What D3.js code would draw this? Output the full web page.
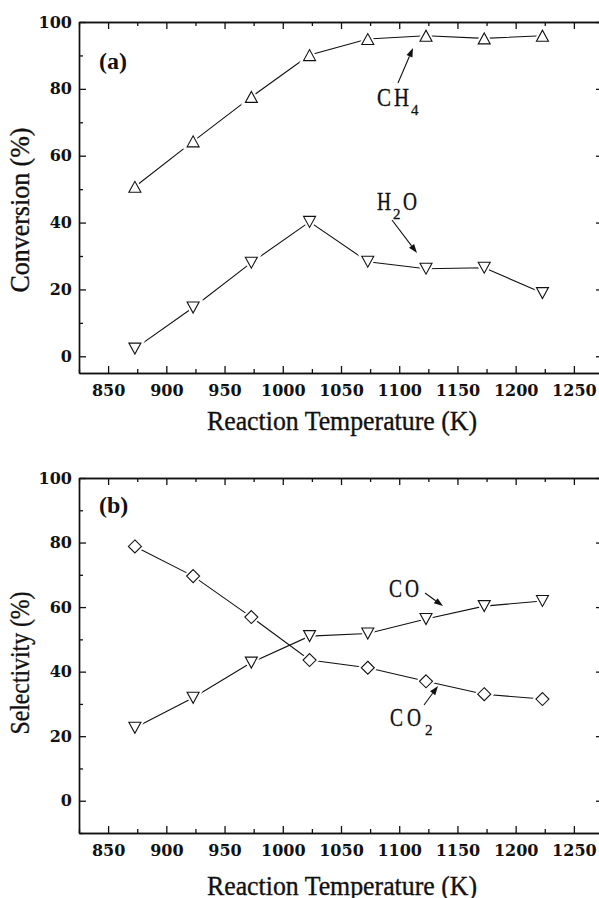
<!DOCTYPE html>
<html><head><meta charset="utf-8">
<script src="https://cdn.jsdelivr.net/npm/d3@7"></script>
<style>
html,body{margin:0;padding:0;background:#fff;}
svg{display:block;}
.tick text{font-family:"DejaVu Serif",serif;font-size:16px;font-weight:bold;fill:#111;}
</style></head>
<body><svg id="c" width="599" height="898"></svg>
<script>
// ---- data ----
const temps = [873, 923, 973, 1023, 1073, 1123, 1173, 1223];
const ch4Conv = [50.7, 64.3, 77.6, 90.1, 94.9, 95.9, 95.1, 95.9];
const h2oConv = [2.3, 14.6, 28.0, 40.2, 28.3, 26.2, 26.5, 18.9];
const coSel = [22.6, 31.9, 42.8, 51.0, 51.8, 56.3, 60.3, 61.9];
const co2Sel = [78.8, 69.6, 56.9, 43.6, 41.2, 37.0, 33.0, 31.5];
const xTicks = [850, 900, 950, 1000, 1050, 1100, 1150, 1200, 1250];
const yTicks = [0, 20, 40, 60, 80, 100];
const xLabel = "Reaction Temperature (K)";
const yLabelA = "Conversion (%)";
const yLabelB = "Selectivity (%)";

const svg = d3.select("#c");
const titleFont = '"Liberation Serif","DejaVu Serif",serif';

function drawPanel(cfg) {
  const x = d3.scaleLinear().domain([825, 1275]).range([79, 603]);
  const y = d3.scaleLinear().domain(cfg.yDomain).range([cfg.bottom, cfg.top]);
  const g = svg.append("g");
  const xMinor = d3.range(825, 1276, 25).filter(v => v % 50 !== 0);
  const yMinor = d3.range(-10, 101, 10).filter(v => v % 20 !== 0 && v >= cfg.yDomain[0]);

  function styleAxis(sel) {
    sel.select(".domain").attr("stroke", "#111").attr("stroke-width", 1.4);
    sel.selectAll(".tick line").attr("stroke", "#111").attr("stroke-width", 1.3);
  }
  // bottom
  g.append("g").attr("transform", `translate(0,${cfg.bottom})`)
    .call(d3.axisBottom(x).tickValues(xTicks).tickSizeInner(-7).tickSizeOuter(0).tickPadding(12).tickFormat(d3.format("d")))
    .call(styleAxis).call(s => s.selectAll(".tick text").attr("dy", "0.71em"));
  g.append("g").attr("transform", `translate(0,${cfg.bottom})`)
    .call(d3.axisBottom(x).tickValues(xMinor).tickSizeInner(-4).tickSizeOuter(0).tickFormat(""))
    .call(styleAxis);
  // top
  g.append("g").attr("transform", `translate(0,${cfg.top})`)
    .call(d3.axisTop(x).tickValues(xTicks).tickSizeInner(-7).tickSizeOuter(0).tickFormat(""))
    .call(styleAxis);
  g.append("g").attr("transform", `translate(0,${cfg.top})`)
    .call(d3.axisTop(x).tickValues(xMinor).tickSizeInner(-4).tickSizeOuter(0).tickFormat(""))
    .call(styleAxis);
  // left
  g.append("g").attr("transform", `translate(79,0)`)
    .call(d3.axisLeft(y).tickValues(yTicks).tickSizeInner(-7).tickSizeOuter(0).tickPadding(7))
    .call(styleAxis);
  g.append("g").attr("transform", `translate(79,0)`)
    .call(d3.axisLeft(y).tickValues(yMinor).tickSizeInner(-4).tickSizeOuter(0).tickFormat(""))
    .call(styleAxis);
  // right
  g.append("g").attr("transform", `translate(603,0)`)
    .call(d3.axisRight(y).tickValues(yTicks).tickSizeInner(-7).tickSizeOuter(0).tickFormat(""))
    .call(styleAxis);
  g.append("g").attr("transform", `translate(603,0)`)
    .call(d3.axisRight(y).tickValues(yMinor).tickSizeInner(-4).tickSizeOuter(0).tickFormat(""))
    .call(styleAxis);

  // titles
  g.append("text").attr("x", 342).attr("y", cfg.xTitleY).attr("text-anchor", "middle")
    .attr("font-family", titleFont).attr("font-size", 27).attr("stroke", "#111").attr("stroke-width", 0.35)
    .attr("textLength", 270).attr("lengthAdjust", "spacingAndGlyphs").attr("fill", "#111")
    .text(xLabel);
  g.append("text").attr("transform", `translate(29,${cfg.yTitleC}) rotate(-90)`).attr("text-anchor", "middle")
    .attr("font-family", titleFont).attr("font-size", 27).attr("stroke", "#111").attr("stroke-width", 0.35)
    .attr("textLength", cfg.yTitleLen).attr("lengthAdjust", "spacingAndGlyphs").attr("fill", "#111")
    .text(cfg.yLabel);
  g.append("text").attr("x", 99).attr("y", cfg.panelY)
    .attr("font-family", titleFont).attr("font-size", 24).attr("font-weight", "bold").attr("fill", "#111")
    .text(cfg.panel);

  // series
  cfg.series.forEach(s => {
    const pts = temps.map((t, i) => [x(t), y(s.values[i])]);
    g.append("path").attr("d", d3.line()(pts)).attr("fill", "none").attr("stroke", "#111").attr("stroke-width", 1.1);
    const shape = s.marker === "up" ? "M-6,5.5L6,5.5L0,-5.5Z"
      : s.marker === "down" ? "M-6,-5.5L6,-5.5L0,5.5Z"
      : "M0,-6.5L6.5,0L0,6.5L-6.5,0Z";
    const m = g.append("g").selectAll("g").data(pts).join("g").attr("transform", d => `translate(${d[0]},${d[1]})`);
    m.append("path").attr("d", shape).attr("fill", "#fff").attr("stroke", "#fff").attr("stroke-width", 5);
    m.append("path").attr("d", shape).attr("fill", "#fff").attr("stroke", "#111").attr("stroke-width", 1.1);
  });

  // annotations
  cfg.notes.forEach(n => {
    n.parts.forEach(p => {
      const t = g.append("text").attr("x", p.x).attr("fill", "#111").attr("font-family", titleFont);
      if (p.sub) {
        t.attr("y", n.y + 9).attr("font-size", 15).attr("stroke", "#111").attr("stroke-width", 0.3).text(p.t);
      } else {
        t.attr("y", n.y).attr("font-size", 26).attr("stroke", "#111").attr("stroke-width", 0.35)
          .attr("textLength", p.w).attr("lengthAdjust", "spacingAndGlyphs").text(p.t);
      }
    });
    // arrow
    const [x1, y1, x2, y2] = n.arrow;
    const ang = Math.atan2(y2 - y1, x2 - x1);
    const L = 9, W = 3.2;
    const bx = x2 - L * Math.cos(ang), by = y2 - L * Math.sin(ang);
    g.append("line").attr("x1", x1).attr("y1", y1).attr("x2", bx).attr("y2", by)
      .attr("stroke", "#111").attr("stroke-width", 1.1);
    g.append("path").attr("d", `M${x2},${y2}L${bx - W * Math.sin(ang)},${by + W * Math.cos(ang)}L${bx + W * Math.sin(ang)},${by - W * Math.cos(ang)}Z`)
      .attr("fill", "#111");
  });
}

drawPanel({
  top: 22, bottom: 373, yDomain: [-5, 100], xTitleY: 430, yTitleC: 210, yTitleLen: 165,
  yLabel: yLabelA, panel: "(a)", panelY: 69,
  series: [{ values: ch4Conv, marker: "up" }, { values: h2oConv, marker: "down" }],
  notes: [
    { y: 106, parts: [{ t: "C", x: 377, w: 14 }, { t: "H", x: 394, w: 15 }, { t: "4", x: 411, sub: true }], arrow: [398, 83, 413, 48] },
    { y: 210, parts: [{ t: "H", x: 377, w: 14 }, { t: "2", x: 393, sub: true }, { t: "O", x: 403, w: 14 }], arrow: [392, 220, 417, 253] }
  ]
});
drawPanel({
  top: 478, bottom: 833, yDomain: [-10, 100], xTitleY: 895, yTitleC: 663, yTitleLen: 143,
  yLabel: yLabelB, panel: "(b)", panelY: 513,
  series: [{ values: co2Sel, marker: "diamond" }, { values: coSel, marker: "down" }],
  notes: [
    { y: 597, parts: [{ t: "C", x: 389, w: 13 }, { t: "O", x: 405, w: 14 }], arrow: [425, 593, 443, 606] },
    { y: 726, parts: [{ t: "C", x: 390, w: 13 }, { t: "O", x: 407, w: 14 }, { t: "2", x: 425, sub: true }], arrow: [424, 705, 438, 686] }
  ]
});
</script></body></html>
